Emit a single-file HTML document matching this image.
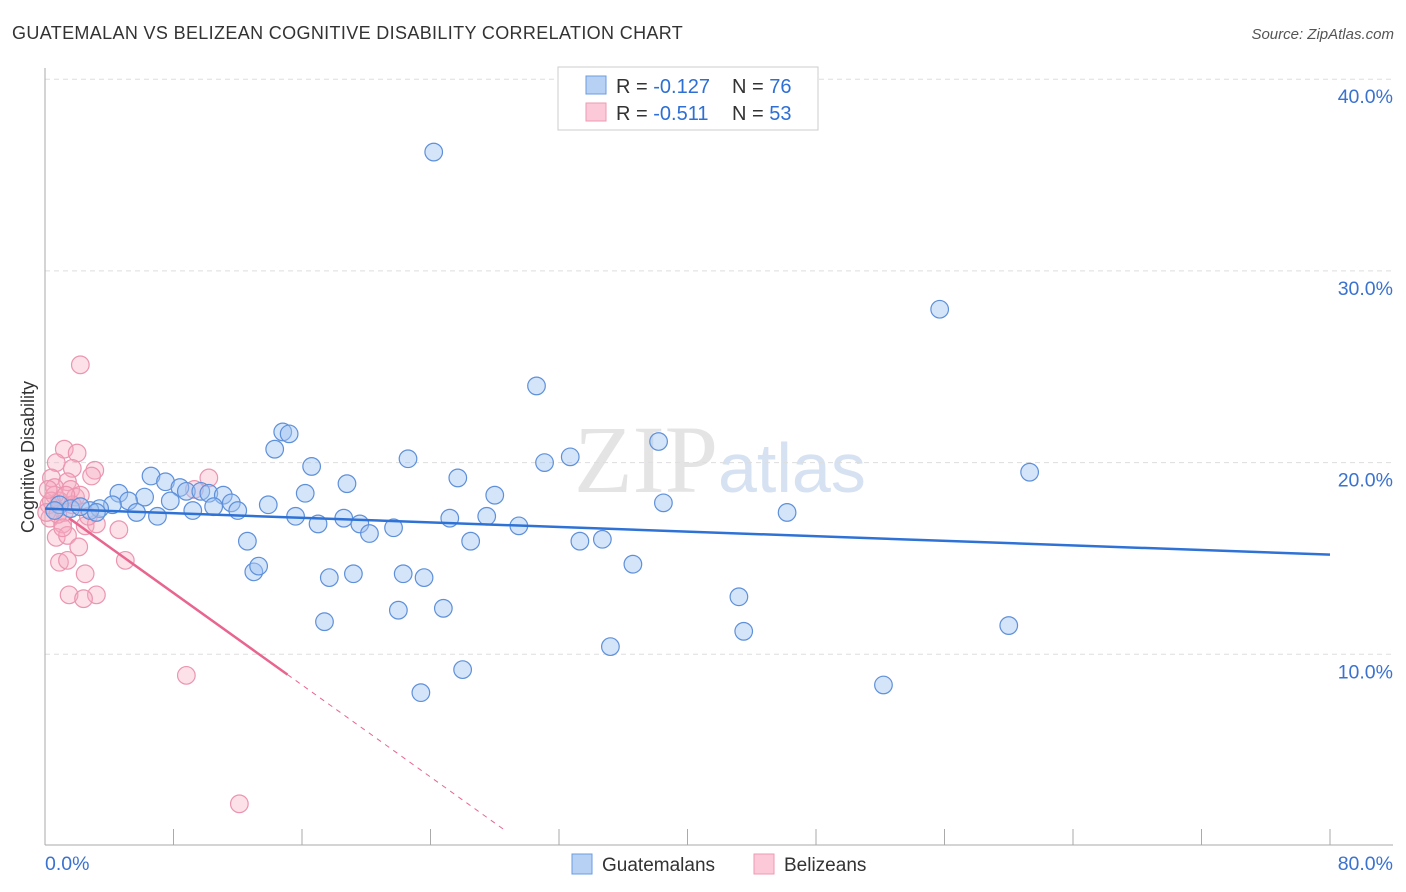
<!DOCTYPE html>
<html><head><meta charset="utf-8"><style>
body{margin:0;background:#fff;font-family:"Liberation Sans",sans-serif;}
svg{display:block}
</style></head><body>
<svg id="c" width="1406" height="892">
<text x="12" y="39" font-size="18" fill="#333" letter-spacing="0.35">GUATEMALAN VS BELIZEAN COGNITIVE DISABILITY CORRELATION CHART</text>
<text x="1394" y="39" font-size="15" fill="#555" font-style="italic" text-anchor="end">Source: ZipAtlas.com</text>
<text x="34" y="457" font-size="18" fill="#333" transform="rotate(-90 34 457)" text-anchor="middle">Cognitive Disability</text>
<text x="718" y="492" font-size="96" fill="#e4e4e4" text-anchor="end" font-family="Liberation Serif">ZIP</text>
<text x="718" y="492" font-size="70" fill="#d6e2f2">atlas</text>
<g id="grid"></g><g id="pts"></g><g id="lines"></g>
<g>
<rect x="558" y="67" width="260" height="63" fill="#fff" stroke="#ccc"/>
<rect x="586" y="76" width="20" height="18" fill="#b7d1f5" stroke="#6a9be0"/>
<rect x="586" y="103" width="20" height="18" fill="#fcc9d8" stroke="#ee9ab3"/>
<text x="616" y="93" font-size="20" fill="#333">R = <tspan fill="#2d6fd4">-0.127</tspan><tspan x="732">N = </tspan><tspan fill="#2d6fd4">76</tspan></text>
<text x="616" y="120" font-size="20" fill="#333">R = <tspan fill="#2d6fd4">-0.511</tspan><tspan x="732">N = </tspan><tspan fill="#2d6fd4">53</tspan></text>
</g>
<g>
<rect x="572" y="854" width="20" height="20" fill="#b7d1f5" stroke="#6a9be0"/>
<text x="602" y="871" font-size="19" fill="#333">Guatemalans</text>
<rect x="754" y="854" width="20" height="20" fill="#fcc9d8" stroke="#ee9ab3"/>
<text x="784" y="871" font-size="19" fill="#333">Belizeans</text>
</g>
</svg>
<script>
const blueX=[24.2,55.7,30.6,14.8,15.2,14.3,38.2,16.6,22.6,31.1,32.7,61.3,6.6,7.5,18.8,25.7,8.4,8.8,9.7,10.2,11.1,4.6,6.2,7.8,16.2,28.0,38.5,46.2,5.2,4.2,3.4,2.8,3.2,5.7,7.0,9.2,10.5,11.6,12.0,13.9,15.6,17.0,18.6,19.6,20.2,21.7,25.2,27.5,29.5,26.5,12.6,33.3,34.7,13.0,13.3,17.7,19.2,22.3,23.6,36.6,22.0,24.8,43.2,17.4,43.5,60.0,35.2,26.0,23.4,52.2,0.9,1.6,0.6,2.2];
const blueY=[36.2,28.0,24.0,21.6,21.5,20.7,21.1,19.8,20.2,20.0,20.3,19.5,19.3,19.0,18.9,19.2,18.7,18.5,18.5,18.4,18.3,18.4,18.2,18.0,18.4,18.3,17.9,17.4,18.0,17.8,17.6,17.5,17.4,17.4,17.2,17.5,17.7,17.9,17.5,17.8,17.2,16.8,17.1,16.8,16.3,16.6,17.1,17.2,16.7,15.9,15.9,15.9,16.0,14.3,14.6,14.0,14.2,14.2,14.0,14.7,12.3,12.4,13.0,11.7,11.2,11.5,10.4,9.2,8.0,8.4,17.8,17.6,17.5,17.7];
const pinkX=[2.2,8.8,12.1,10.2,1.2,2.0,0.7,1.7,3.1,2.9,0.4,1.4,0.6,1.6,1.9,0.9,0.25,1.2,0.3,1.1,2.5,3.2,4.6,0.7,1.4,2.1,0.9,1.4,5.0,2.5,1.5,3.2,2.4,0.6,2.2,0.4,0.1,0.8,1.7,2.7,1.1,0.2,1.3,9.3];
const pinkY=[25.1,8.9,2.2,19.2,20.7,20.5,20.0,19.7,19.6,19.3,19.2,19.0,18.7,18.6,18.2,18.0,17.8,17.4,17.1,16.8,16.7,16.8,16.5,16.1,16.2,15.6,14.8,14.9,14.9,14.2,13.1,13.1,12.9,18.3,18.3,18.0,17.4,17.3,17.8,17.2,16.6,18.6,18.3,18.6];
const yTicks=[10,20,30,40];
const xTicks=[0,8,16,24,32,40,48,56,64,72,80];
const blueFit=[17.6,15.2];
const pinkFit=[18.0,-0.60];
const NS='http://www.w3.org/2000/svg';
const X=v=>45+v*16.0625, Y=v=>846-v*19.17;
function mk(t,a,p){const e=document.createElementNS(NS,t);for(const k in a)e.setAttribute(k,a[k]);p.appendChild(e);return e;}
const g=document.getElementById('grid');
yTicks.forEach(v=>{
 const l=mk('line',{x1:45,x2:1393,y1:Y(v),y2:Y(v),stroke:'#ddd','stroke-dasharray':'5,4'},g);
 
 
 const t=mk('text',{x:1393,y:Y(v)+24,'font-size':19.5,fill:'#3a72d0','text-anchor':'end'},g);
 t.textContent=v.toFixed(1)+'%';
 
 
});
const ax=mk('line',{x1:45,x2:1393,y1:845,y2:845,stroke:'#aaa'},g);


const ay=mk('line',{x1:45,x2:45,y1:68,y2:845,stroke:'#aaa'},g);


xTicks.forEach(v=>{
 const l=mk('line',{x1:X(v),x2:X(v),y1:829,y2:845,stroke:'#aaa'},g);
 
 
});
[[0,'start'],[80,'end']].forEach(([v,a])=>{
 const t=mk('text',{x:v==0?45:1393,y:870,'font-size':19.5,fill:'#3a72d0','text-anchor':a},g);
 t.textContent=v.toFixed(1)+'%';
 
 
});
const p=document.getElementById('pts');
pinkX.forEach((v,i)=>{
 const c=mk('circle',{cx:X(v),cy:Y(pinkY[i]),r:8.8,fill:'rgba(246,168,192,0.35)',stroke:'#eb95b0','stroke-width':1.2},p);
 
 
});
blueX.forEach((v,i)=>{
 const c=mk('circle',{cx:X(v),cy:Y(blueY[i]),r:8.8,fill:'rgba(160,196,242,0.45)',stroke:'#5e90da','stroke-width':1.2},p);
 
 
});
const L=document.getElementById('lines');
const bl=mk('line',{x1:X(0),y1:Y(blueFit[0]),x2:X(80),y2:Y(blueFit[1]),stroke:'#2f72d6','stroke-width':2.5},L);


const pf=x=>pinkFit[0]+pinkFit[1]*x;
const pl=mk('line',{x1:X(1.5),y1:Y(pf(1.5)),x2:X(15.1),y2:Y(pf(15.1)),stroke:'#e8658f','stroke-width':2.5},L);


const pd=mk('line',{x1:X(15.1),y1:Y(pf(15.1)),x2:X(28.6),y2:Y(Math.max(0.2,pf(28.6))),stroke:'#e8658f','stroke-width':1,'stroke-dasharray':'5,5'},L);


</script>
</body></html>
